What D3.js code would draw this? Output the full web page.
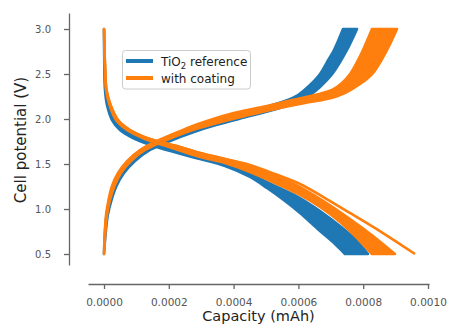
<!DOCTYPE html>
<html>
<head>
<meta charset="utf-8">
<script src="https://cdn.jsdelivr.net/npm/d3@7"></script>
<style>
  body { margin: 0; background: #fff; }
  svg { display: block; font-family: "DejaVu Sans", sans-serif; }
</style>
</head>
<body>
<div id="chart"></div>
<script>
// tick labels
const capTicks = [0, 0.0002, 0.0004, 0.0006, 0.0008, 0.0010];
const voltTicks = [0.5, 1.0, 1.5, 2.0, 2.5, 3.0];

// series
const seriesNames = ["TiO2 reference", "with coating"];
const seriesColors = ["#1f77b4", "#ff7f0e"];

// [capacity (mAh), potential (V)] — edges of the band formed by all cycles
const refDischargeFirst = [
  [0, 3.0], [0.009e-4, 2.6], [0.031e-4, 2.322], [0.093e-4, 2.156], [0.247e-4, 1.989],
  [0.494e-4, 1.878], [0.957e-4, 1.778], [1.728e-4, 1.678], [2.963e-4, 1.556],
  [3.735e-4, 1.478], [4.506e-4, 1.356], [5.031e-4, 1.233], [5.586e-4, 1.089],
  [6.049e-4, 0.956], [6.667e-4, 0.756], [7.13e-4, 0.611], [7.438e-4, 0.5]
];
const refDischargeLast = [
  [0, 3.0], [0.025e-4, 2.6], [0.062e-4, 2.322], [0.154e-4, 2.156], [0.34e-4, 1.989],
  [0.648e-4, 1.878], [1.173e-4, 1.778], [1.975e-4, 1.678], [2.963e-4, 1.578],
  [3.735e-4, 1.5], [4.506e-4, 1.389], [5.278e-4, 1.256], [6.049e-4, 1.122],
  [6.667e-4, 0.978], [7.284e-4, 0.811], [7.747e-4, 0.667], [8.148e-4, 0.5]
];
const refChargeFirst = [
  [0, 0.5], [0.025e-4, 0.711], [0.077e-4, 0.933], [0.17e-4, 1.1], [0.293e-4, 1.256],
  [0.494e-4, 1.4], [0.802e-4, 1.533], [1.235e-4, 1.656], [1.79e-4, 1.756],
  [2.469e-4, 1.856], [3.117e-4, 1.933], [4.043e-4, 2.033], [4.969e-4, 2.133],
  [5.586e-4, 2.2], [5.988e-4, 2.267], [6.358e-4, 2.378], [6.667e-4, 2.5],
  [6.883e-4, 2.633], [7.099e-4, 2.767], [7.377e-4, 3.0]
];
const refChargeLast = [
  [0, 0.5], [0.046e-4, 0.711], [0.117e-4, 0.933], [0.231e-4, 1.1], [0.386e-4, 1.256],
  [0.617e-4, 1.4], [0.957e-4, 1.533], [1.42e-4, 1.656], [2.037e-4, 1.756],
  [2.778e-4, 1.856], [3.457e-4, 1.933], [4.506e-4, 2.033], [5.432e-4, 2.122],
  [6.049e-4, 2.2], [6.358e-4, 2.267], [6.667e-4, 2.356], [7.068e-4, 2.511],
  [7.5e-4, 2.767], [7.809e-4, 3.0]
];

const coatDischargeFirst = [
  [0, 3.0], [0.025e-4, 2.6], [0.062e-4, 2.322], [0.17e-4, 2.156], [0.37e-4, 1.989],
  [0.71e-4, 1.878], [1.265e-4, 1.778], [2.099e-4, 1.678], [2.963e-4, 1.578],
  [3.735e-4, 1.511], [4.506e-4, 1.411], [5.278e-4, 1.289], [6.049e-4, 1.156],
  [6.667e-4, 1.022], [7.284e-4, 0.856], [7.747e-4, 0.7], [8.272e-4, 0.5]
];
const coatDischargeLast = [
  [0, 3.0], [0.031e-4, 2.6], [0.077e-4, 2.322], [0.201e-4, 2.156], [0.432e-4, 1.989],
  [0.802e-4, 1.878], [1.42e-4, 1.778], [2.346e-4, 1.689], [2.963e-4, 1.622],
  [3.735e-4, 1.556], [4.506e-4, 1.478], [5.278e-4, 1.378], [6.049e-4, 1.244],
  [6.821e-4, 1.078], [7.593e-4, 0.889], [8.302e-4, 0.7], [8.981e-4, 0.5]
];
const coatDischargeLong = [
  [0, 3.0], [0.031e-4, 2.6], [0.077e-4, 2.322], [0.201e-4, 2.156], [0.432e-4, 1.989],
  [0.802e-4, 1.878], [1.42e-4, 1.778], [2.346e-4, 1.689], [2.963e-4, 1.622],
  [3.735e-4, 1.556], [4.506e-4, 1.489], [5.278e-4, 1.389], [6.049e-4, 1.278],
  [6.821e-4, 1.122], [7.593e-4, 0.956], [8.611e-4, 0.733], [9.599e-4, 0.5]
];
const coatChargeFirst = [
  [0, 0.5], [0.019e-4, 0.711], [0.062e-4, 0.933], [0.139e-4, 1.1], [0.247e-4, 1.256],
  [0.432e-4, 1.4], [0.71e-4, 1.533], [1.111e-4, 1.656], [1.636e-4, 1.756],
  [2.284e-4, 1.856], [2.901e-4, 1.944], [3.889e-4, 2.056], [4.877e-4, 2.133],
  [5.802e-4, 2.211], [6.512e-4, 2.267], [7.037e-4, 2.322], [7.346e-4, 2.4],
  [7.593e-4, 2.5], [7.809e-4, 2.633], [7.994e-4, 2.767], [8.272e-4, 3.0]
];
const coatChargeLast = [
  [0, 0.5], [0.037e-4, 0.711], [0.093e-4, 0.933], [0.185e-4, 1.1], [0.324e-4, 1.256],
  [0.525e-4, 1.4], [0.833e-4, 1.533], [1.265e-4, 1.656], [1.852e-4, 1.756],
  [2.562e-4, 1.856], [3.272e-4, 1.933], [4.352e-4, 2.033], [5.432e-4, 2.122],
  [6.204e-4, 2.178], [6.883e-4, 2.222], [7.438e-4, 2.289], [7.901e-4, 2.389],
  [8.302e-4, 2.511], [8.735e-4, 2.767], [9.043e-4, 3.0]
];

const width = 451, height = 336;

const svg = d3.select("#chart")
  .append("svg")
  .attr("width", width)
  .attr("height", height);

// axis limits incl. matplotlib margins
const x = d3.scaleLinear().domain([-0.0000494, 0.0010031]).range([88, 429]);
const y = d3.scaleLinear().domain([0.378, 3.178]).range([265, 13]);

const line = d3.line()
  .x(d => x(d[0]))
  .y(d => y(d[1]))
  .curve(d3.curveCatmullRom.alpha(0.5));

function bandPath(a, b) {
  return line(a) + line(b.slice().reverse()).replace(/^M/, "L") + "Z";
}

function drawBand(a, b, color) {
  svg.append("path")
    .attr("d", bandPath(a, b))
    .attr("fill", color)
    .attr("stroke", color)
    .attr("stroke-width", 2.6)
    .attr("stroke-linejoin", "round");
}

// reference cycles first, coating on top
drawBand(refDischargeFirst, refDischargeLast, seriesColors[0]);
drawBand(refChargeFirst, refChargeLast, seriesColors[0]);
drawBand(coatDischargeFirst, coatDischargeLast, seriesColors[1]);
drawBand(coatChargeFirst, coatChargeLast, seriesColors[1]);

svg.append("path")
  .attr("d", line(coatDischargeLong))
  .attr("fill", "none")
  .attr("stroke", seriesColors[1])
  .attr("stroke-width", 2.6);

// axes
const axisColor = "#666";

const xAxis = svg.append("g")
  .attr("transform", "translate(0,284)")
  .call(d3.axisBottom(x).tickValues(capTicks).tickFormat(d3.format(".4f"))
    .tickSize(5).tickSizeOuter(0).tickPadding(10));

const yAxis = svg.append("g")
  .attr("transform", "translate(69,0)")
  .call(d3.axisLeft(y).tickValues(voltTicks).tickFormat(d3.format(".1f"))
    .tickSize(5).tickSizeOuter(0).tickPadding(13));

[xAxis, yAxis].forEach(g => {
  g.attr("font-family", "DejaVu Sans, sans-serif");
  g.select(".domain").attr("stroke", axisColor).attr("stroke-width", 1.3);
  g.selectAll(".tick line").attr("stroke", axisColor).attr("stroke-width", 1.3);
  g.selectAll(".tick text").attr("fill", "#555");
});
xAxis.attr("font-size", 10.5);
yAxis.attr("font-size", 10);

svg.append("text")
  .attr("x", 258.5)
  .attr("y", 321)
  .attr("text-anchor", "middle")
  .attr("font-size", 14.5)
  .attr("fill", "#222")
  .text("Capacity (mAh)");

svg.append("text")
  .attr("transform", "translate(26,140) rotate(-90)")
  .attr("text-anchor", "middle")
  .attr("font-size", 15)
  .attr("fill", "#222")
  .text("Cell potential (V)");

// legend
const legend = svg.append("g");
legend.append("rect")
  .attr("x", 122.5).attr("y", 50.5)
  .attr("width", 128).attr("height", 38.5)
  .attr("rx", 3)
  .attr("fill", "#fff").attr("fill-opacity", 0.8)
  .attr("stroke", "#ccc");

seriesNames.forEach((name, i) => {
  const ly = 61 + i * 17;
  legend.append("line")
    .attr("x1", 126).attr("x2", 153)
    .attr("y1", ly).attr("y2", ly)
    .attr("stroke", seriesColors[i])
    .attr("stroke-width", 4);
  const t = legend.append("text")
    .attr("x", 161).attr("y", ly + 4.5)
    .attr("font-size", 12)
    .attr("fill", "#222");
  if (name.startsWith("TiO2")) {
    t.append("tspan").text("TiO");
    t.append("tspan").attr("font-size", 8.5).attr("dy", 3).text("2");
    t.append("tspan").attr("dy", -3).text(name.slice(4));
  } else {
    t.text(name);
  }
});
</script>
</body>
</html>
